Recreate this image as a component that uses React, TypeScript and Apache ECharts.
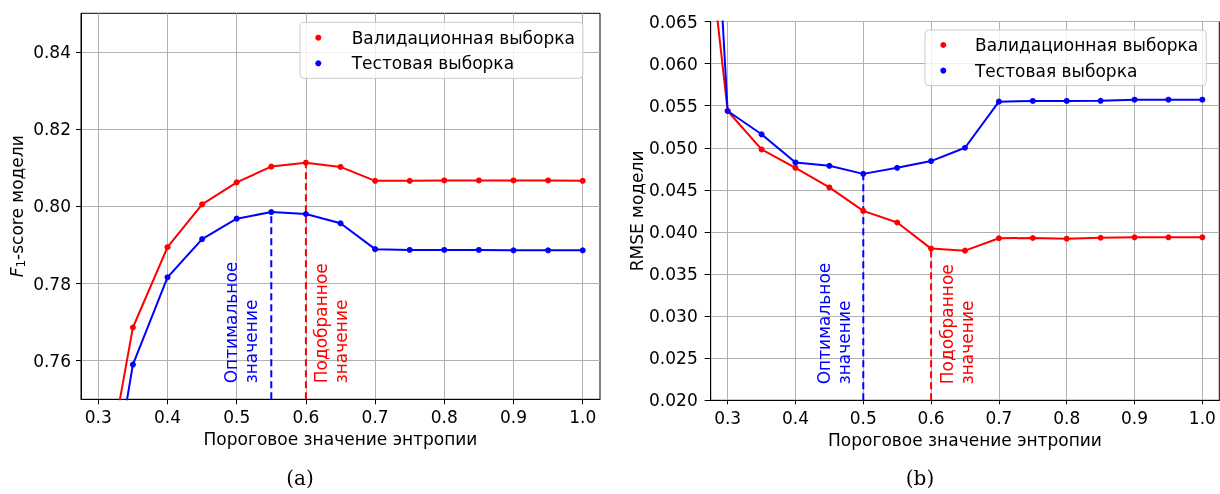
import React, { useEffect, useRef } from 'react';
import * as echarts from 'echarts';

// ---- data ----
const thresholdsF1 = [0.3, 0.35, 0.4, 0.45, 0.5, 0.55, 0.6, 0.65, 0.7, 0.75, 0.8, 0.85, 0.9, 0.95, 1.0];
const f1Validation = [0.719, 0.7686, 0.7894, 0.8005, 0.8062, 0.8103, 0.8113, 0.8102, 0.8066, 0.8066, 0.8067, 0.8067, 0.8067, 0.8067, 0.8066];
const f1Test = [0.7055, 0.759, 0.7816, 0.7915, 0.7968, 0.7985, 0.798, 0.7956, 0.7889, 0.7887, 0.7887, 0.7887, 0.7886, 0.7886, 0.7886];

const thresholdsRMSE = [0.25, 0.3, 0.35, 0.4, 0.45, 0.5, 0.55, 0.6, 0.65, 0.7, 0.75, 0.8, 0.85, 0.9, 0.95, 1.0];
const rmseValidation = [0.0905, 0.05437, 0.0498, 0.04762, 0.04529, 0.0425, 0.04112, 0.03802, 0.03778, 0.03925, 0.03928, 0.0392, 0.03931, 0.03936, 0.03936, 0.03936];
const rmseTest = [0.1266, 0.05437, 0.0516, 0.04826, 0.04786, 0.0469, 0.04762, 0.04842, 0.05, 0.05548, 0.05556, 0.05556, 0.05558, 0.05571, 0.05571, 0.05571];

const xTicks = [0.3, 0.4, 0.5, 0.6, 0.7, 0.8, 0.9, 1.0];
const yTicksF1 = [0.76, 0.78, 0.8, 0.82, 0.84];

const optimalF1 = 0.55;
const selectedF1 = 0.6;
const optimalRMSE = 0.5;
const selectedRMSE = 0.6;

const seriesNames = ['Валидационная выборка', 'Тестовая выборка'];
const xName = 'Пороговое значение энтропии';
const optimalText = 'Оптимальное\nзначение';
const selectedText = 'Подобранное\nзначение';

const RED = '#ff0000';
const BLUE = '#0000ff';
const FONT = '"DejaVu Sans", sans-serif';
const FS = 17;

const pairs = (xs: number[], ys: number[]) => xs.map((x, i) => [x, ys[i]]);
const valueAt = (xs: number[], ys: number[], x: number) => ys[xs.findIndex((v) => Math.abs(v - x) < 1e-9)];

export default function App() {
  const ref = useRef<HTMLDivElement>(null);

  useEffect(() => {
    if (!ref.current) return;
    const chart = echarts.init(ref.current, undefined, { renderer: 'svg' });

    const xAxis = (gridIndex: number, tickLen: number, gap: number) => ({
      type: 'value',
      gridIndex,
      min: 0.275,
      max: 1.025,
      minInterval: 0.1,
      maxInterval: 0.1,
      axisLine: { show: true, onZero: false, lineStyle: { color: '#000', width: 1 } },
      axisTick: { show: true, length: tickLen, customValues: xTicks, lineStyle: { color: '#000' } },
      axisLabel: {
        customValues: xTicks,
        formatter: (v: number) => v.toFixed(1),
        margin: 9,
        color: '#000',
        fontSize: FS,
        fontFamily: FONT,
      },
      splitLine: { show: true, lineStyle: { color: '#b0b0b0', width: 1 } },
      name: xName,
      nameLocation: 'middle',
      nameGap: gap,
      nameTextStyle: { color: '#000', fontSize: FS, fontFamily: FONT },
    });

    const yF1Min = 0.75;
    const yF1Max = 0.85;
    const yRMin = 0.02;
    const yRMax = 0.065;

    const lineSeries = (name: string, color: string, idx: number, data: number[][]) => ({
      name,
      type: 'line',
      xAxisIndex: idx,
      yAxisIndex: idx,
      data,
      clip: true,
      symbol: 'circle',
      symbolSize: 6,
      showSymbol: true,
      itemStyle: { color },
      lineStyle: { color, width: 2 },
      z: 3,
    });

    const dashSeries = (id: string, color: string, idx: number, x: number, y0: number, y1: number) => ({
      name: id,
      type: 'line',
      xAxisIndex: idx,
      yAxisIndex: idx,
      data: [[x, y0], [x, y1]],
      symbol: 'none',
      lineStyle: { color, width: 2, type: [7, 4] },
      z: 2,
    });

    const legendBase = {
      orient: 'vertical',
      icon: 'circle',
      itemWidth: 16,
      itemHeight: 6,
      itemGap: 6.6,
      backgroundColor: 'rgba(255,255,255,0.8)',
      borderColor: '#cccccc',
      borderWidth: 1,
      borderRadius: 4,
      data: seriesNames,
      selectedMode: false,
    };

    const option: any = {
      animation: false,
      textStyle: { fontFamily: FONT },
      grid: [
        { left: 81, top: 13.3, width: 519, height: 386, show: true, borderColor: '#000', borderWidth: 1 },
        { left: 710.7, top: 21.5, width: 508.6, height: 378.8, show: true, borderColor: '#000', borderWidth: 1 },
      ],
      legend: [
        {
          ...legendBase,
          left: 300,
          top: 22.3,
          padding: [5.9, 8, 5.5, 15.3],
          textStyle: { fontSize: FS, color: '#000', fontFamily: FONT, lineHeight: 19, padding: [0, 0, 0, 20.4] },
        },
        {
          ...legendBase,
          left: 925,
          top: 30,
          padding: [5.5, 8, 5.5, 15.3],
          textStyle: { fontSize: FS, color: '#000', fontFamily: FONT, lineHeight: 19, padding: [0, 0, 0, 18.7] },
        },
      ],
      xAxis: [xAxis(0, 5, 31.5), xAxis(1, 4, 30.5)],
      yAxis: [
        {
          type: 'value',
          gridIndex: 0,
          min: yF1Min,
          max: yF1Max,
          minInterval: 0.02,
          maxInterval: 0.02,
          axisLine: { show: true, lineStyle: { color: '#000', width: 1 } },
          axisTick: { show: true, length: 5, customValues: yTicksF1, lineStyle: { color: '#000' } },
          axisLabel: {
            customValues: yTicksF1,
            formatter: (v: number) => v.toFixed(2),
            margin: 10,
            color: '#000',
            fontSize: FS,
            fontFamily: FONT,
          },
          splitLine: { show: true, lineStyle: { color: '#b0b0b0', width: 1 } },
          name: '{i|F}{s|1}{t|-score модели}',
          nameLocation: 'middle',
          nameGap: 54,
          nameTextStyle: {
            color: '#000',
            fontSize: FS,
            fontFamily: FONT,
            rich: {
              i: { fontStyle: 'italic', fontSize: FS, fontFamily: FONT, color: '#000', lineHeight: 20 },
              s: { fontSize: 12, fontFamily: FONT, color: '#000', lineHeight: 12, verticalAlign: 'bottom' },
              t: { fontSize: FS, fontFamily: FONT, color: '#000', lineHeight: 20 },
            },
          },
        },
        {
          type: 'value',
          gridIndex: 1,
          min: yRMin,
          max: yRMax,
          interval: 0.005,
          axisLine: { show: true, lineStyle: { color: '#000', width: 1 } },
          axisTick: { show: true, length: 6, lineStyle: { color: '#000' } },
          axisLabel: {
            formatter: (v: number) => v.toFixed(3),
            margin: 13,
            color: '#000',
            fontSize: FS,
            fontFamily: FONT,
          },
          splitLine: { show: true, lineStyle: { color: '#b0b0b0', width: 1 } },
          name: 'RMSE модели',
          nameLocation: 'middle',
          nameGap: 64,
          nameTextStyle: { color: '#000', fontSize: FS, fontFamily: FONT },
        },
      ],
      series: [
        dashSeries('optF1', BLUE, 0, optimalF1, yF1Min, valueAt(thresholdsF1, f1Test, optimalF1)),
        dashSeries('selF1', RED, 0, selectedF1, yF1Min, valueAt(thresholdsF1, f1Validation, selectedF1)),
        lineSeries(seriesNames[0], RED, 0, pairs(thresholdsF1, f1Validation)),
        lineSeries(seriesNames[1], BLUE, 0, pairs(thresholdsF1, f1Test)),
        dashSeries('optR', BLUE, 1, optimalRMSE, yRMin, valueAt(thresholdsRMSE, rmseTest, optimalRMSE)),
        dashSeries('selR', RED, 1, selectedRMSE, yRMin, valueAt(thresholdsRMSE, rmseValidation, selectedRMSE)),
        lineSeries(seriesNames[0], RED, 1, pairs(thresholdsRMSE, rmseValidation)),
        lineSeries(seriesNames[1], BLUE, 1, pairs(thresholdsRMSE, rmseTest)),
      ],
    };

    chart.setOption(option);

    const px = (idx: number, x: number, y: number) =>
      chart.convertToPixel({ xAxisIndex: idx, yAxisIndex: idx } as any, [x, y]) as number[];

    const rotText = (idx: number, x: number, yBottom: number, dx: number, text: string, color: string) => {
      const p = px(idx, x, yBottom);
      return {
        type: 'text',
        x: p[0] + dx,
        y: p[1] - 16,
        rotation: Math.PI / 2,
        style: {
          text,
          fill: color,
          fontSize: FS,
          fontFamily: FONT,
          align: 'left',
          verticalAlign: 'middle',
          lineHeight: 20,
        },
        z: 10,
      };
    };

    chart.setOption({
      graphic: [
        rotText(0, optimalF1, yF1Min, -30, optimalText, BLUE),
        rotText(0, selectedF1, yF1Min, 25, selectedText, RED),
        rotText(1, optimalRMSE, yRMin, -29, optimalText, BLUE),
        rotText(1, selectedRMSE, yRMin, 25.7, selectedText, RED),
        {
          type: 'text',
          x: 300,
          y: 478,
          style: { text: '(a)', fill: '#000', fontSize: 20, fontFamily: '"DejaVu Serif", serif', align: 'center', verticalAlign: 'middle' },
        },
        {
          type: 'text',
          x: 920,
          y: 478,
          style: { text: '(b)', fill: '#000', fontSize: 20, fontFamily: '"DejaVu Serif", serif', align: 'center', verticalAlign: 'middle' },
        },
      ],
    });

    return () => chart.dispose();
  }, []);

  return <div ref={ref} style={{ position: 'fixed', left: 0, top: 0, width: 1220, height: 494 }} />;
}
